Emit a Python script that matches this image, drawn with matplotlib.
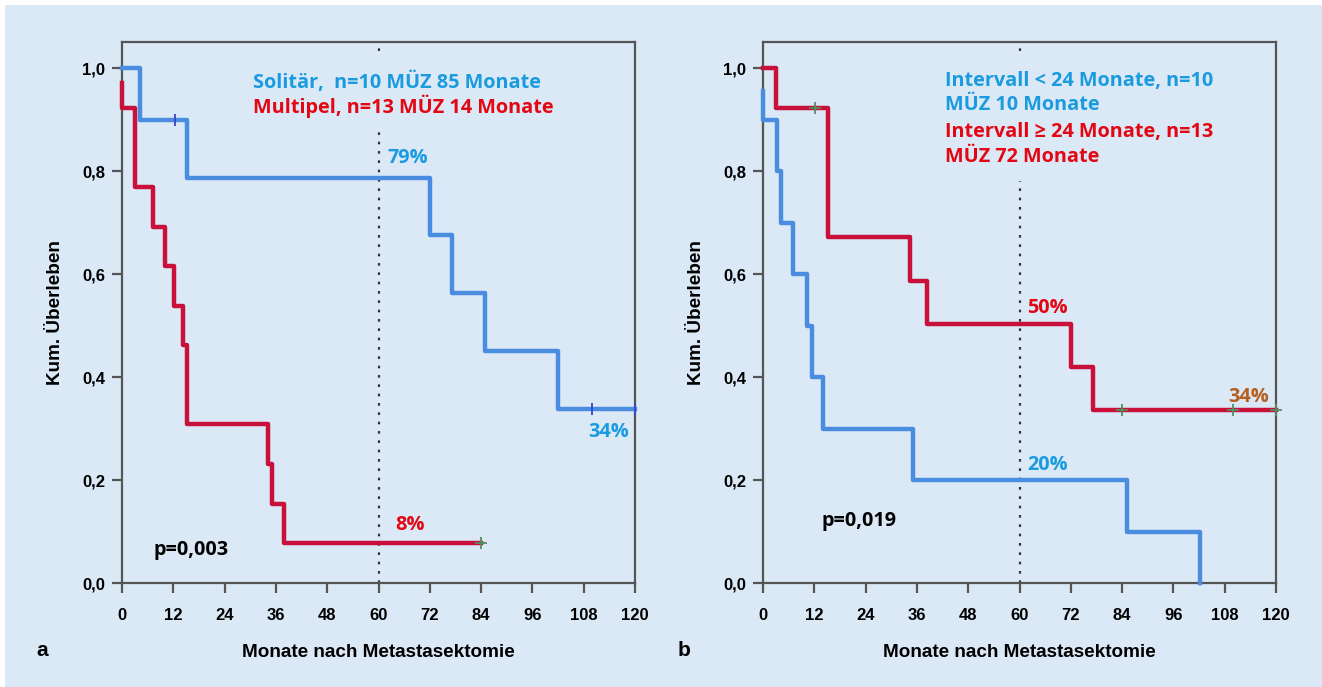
import matplotlib
matplotlib.use("Agg")
import matplotlib.pyplot as plt
from matplotlib.patches import Rectangle

# ---------------- data ----------------
# Panel a
a_blue_t = [0, 4.2, 15.2, 72.0, 77.2, 85.0, 102.0, 120.0]
a_blue_s = [1.0, 0.9, 0.787, 0.675, 0.5625, 0.45, 0.3375, 0.3375]
a_blue_cens_t = [12.4, 110.0, 120.0]
a_blue_cens_s = [0.9, 0.3375, 0.3375]

a_red_t = [0, 0, 3.0, 7.2, 10.1, 12.2, 14.2, 15.1, 34.2, 35.0, 38.0, 84.0]
a_red_s = [0.97, 0.923, 0.769, 0.692, 0.615, 0.538, 0.462, 0.308, 0.231, 0.154, 0.077, 0.077]
a_red_cens_t = [84.0]
a_red_cens_s = [0.077]

# Panel b
b_red_t = [0, 3.0, 15.3, 34.3, 38.4, 72.1, 77.3, 120.0]
b_red_s = [1.0, 0.923, 0.671, 0.587, 0.503, 0.419, 0.335, 0.335]
b_red_cens_t = [12.2, 84.0, 110.0, 120.0]
b_red_cens_s = [0.923, 0.335, 0.335, 0.335]

b_blue_t = [0, 0, 3.2, 4.1, 7.1, 10.2, 11.4, 14.1, 35.2, 85.2, 102.2, 102.2]
b_blue_s = [0.955, 0.9, 0.8, 0.7, 0.6, 0.5, 0.4, 0.3, 0.2, 0.1, 0.0, 0.0]

x_ticks = [0, 12, 24, 36, 48, 60, 72, 84, 96, 108, 120]
y_ticks = [0.0, 0.2, 0.4, 0.6, 0.8, 1.0]
y_ticklabels = ["0,0", "0,2", "0,4", "0,6", "0,8", "1,0"]
landmark = 60

a_legend = [("Solitär,  n=10 MÜZ 85 Monate", "blue"),
            ("Multipel, n=13 MÜZ 14 Monate", "red")]
b_legend = [("Intervall < 24 Monate, n=10", "blue"),
            ("MÜZ 10 Monate", "blue"),
            ("Intervall ≥ 24 Monate, n=13", "red"),
            ("MÜZ 72 Monate", "red")]

# ---------------- style ----------------
BG = "#dbe9f6"
LBLUE = "#4a8de0"
LRED = "#c8103a"
TBLUE = "#1a9be0"
TRED = "#e30613"
TBROWN = "#b55e1e"
CBLUE = "#3b3fd0"
CGREEN = "#4f9160"
SPINE = "#555555"
TFONT = ["Open Sans", "DejaVu Sans"]
AFONT = ["Liberation Sans", "DejaVu Sans"]
TS = 14.3

W, H = 1322, 687
fig = plt.figure(figsize=(W / 100, H / 100), dpi=100, facecolor="white")
fig.patches.append(Rectangle((5 / W, 0), 1 - 5 / W, 1 - 5 / H, transform=fig.transFigure,
                             facecolor=BG, edgecolor="none", zorder=-10))

bottom = 1 - 583 / H
top = 1 - 42 / H
axA = fig.add_axes([122 / W, bottom, (635 - 122) / W, top - bottom])
axB = fig.add_axes([763 / W, bottom, (1276 - 763) / W, top - bottom])

tcol = {"blue": TBLUE, "red": TRED}


def style(ax, letter):
    ax.set_facecolor(BG)
    ax.set_xlim(0, 120)
    ax.set_ylim(0, 1.0505)
    for s in ax.spines.values():
        s.set_color(SPINE)
        s.set_linewidth(1.6)
    ax.set_xticks(x_ticks)
    ax.set_xticklabels([str(t) for t in x_ticks], fontfamily=AFONT, fontweight="bold", fontsize=12)
    ax.set_yticks(y_ticks)
    ax.set_yticklabels(y_ticklabels, fontfamily=AFONT, fontweight="bold", fontsize=12)
    ax.tick_params(axis="both", direction="out", length=7, width=1.6, color=SPINE)
    ax.tick_params(axis="x", pad=11)
    ax.tick_params(axis="y", pad=5)
    ax.set_xlabel("Monate nach Metastasektomie", fontfamily=AFONT, fontweight="bold",
                  fontsize=13.6, labelpad=15)
    ax.set_ylabel("Kum. Überleben", fontfamily=AFONT, fontweight="bold",
                  fontsize=13.6, labelpad=13)
    ax.axvline(landmark, color="#333333", linestyle=(0, (1.2, 3)), linewidth=1.6, zorder=1)
    ax.text(-0.167, -0.125, letter, transform=ax.transAxes, fontfamily=AFONT,
            fontweight="bold", fontsize=15, ha="left", va="center")


style(axA, "a")
style(axB, "b")

# panel a curves
axA.step(a_blue_t, a_blue_s, where="post", color=LBLUE, lw=3.2, zorder=3, clip_on=False)
axA.step(a_red_t, a_red_s, where="post", color=LRED, lw=3.2, zorder=3, clip_on=False)
axA.plot(a_blue_cens_t, a_blue_cens_s, ls="none", marker="|", ms=9, mew=1.3, color=CBLUE, zorder=4, clip_on=False)
axA.plot(a_red_cens_t, a_red_cens_s, ls="none", marker="+", ms=8, mew=1.3, color=CGREEN, zorder=4, clip_on=False)

# panel b curves
axB.step(b_blue_t, b_blue_s, where="post", color=LBLUE, lw=3.2, zorder=3, clip_on=False)
axB.step(b_red_t, b_red_s, where="post", color=LRED, lw=3.2, zorder=3, clip_on=False)
axB.plot(b_red_cens_t, b_red_cens_s, ls="none", marker="+", ms=8, mew=1.3, color=CGREEN, zorder=4, clip_on=False)

bb = dict(boxstyle="square,pad=0.7", facecolor=BG, edgecolor="none")


def legend_block(ax, x, lines, ys):
    # background boxes first (hide the landmark line), then the coloured text
    for (txt, c), yy in zip(lines, ys):
        ax.text(x, yy, txt, color=(0, 0, 0, 0), fontfamily=TFONT, fontweight="bold",
                fontsize=TS, ha="left", va="center", bbox=bb, zorder=2)
    for (txt, c), yy in zip(lines, ys):
        ax.text(x, yy, txt, color=tcol[c], fontfamily=TFONT, fontweight="bold",
                fontsize=TS, ha="left", va="center", zorder=2.5)


legend_block(axA, 30.6, a_legend, [0.973, 0.926])
axA.text(62.2, 0.825, "79%", color=TBLUE, fontfamily=TFONT, fontweight="bold", fontsize=TS, va="center")
axA.text(109.0, 0.293, "34%", color=TBLUE, fontfamily=TFONT, fontweight="bold", fontsize=TS, va="center")
axA.text(63.9, 0.113, "8%", color=TRED, fontfamily=TFONT, fontweight="bold", fontsize=TS, va="center")
axA.text(7.3, 0.064, "p=0,003", color="black", fontfamily=TFONT, fontweight="bold", fontsize=TS, va="center")

legend_block(axB, 42.6, b_legend, [0.975, 0.928, 0.876, 0.827])
axB.text(61.8, 0.534, "50%", color=TRED, fontfamily=TFONT, fontweight="bold", fontsize=TS, va="center")
axB.text(108.8, 0.361, "34%", color=TBROWN, fontfamily=TFONT, fontweight="bold", fontsize=TS, va="center")
axB.text(61.8, 0.229, "20%", color=TBLUE, fontfamily=TFONT, fontweight="bold", fontsize=TS, va="center")
axB.text(13.8, 0.12, "p=0,019", color="black", fontfamily=TFONT, fontweight="bold", fontsize=TS, va="center")

fig.savefig("out.png", dpi=100, facecolor=fig.get_facecolor())
